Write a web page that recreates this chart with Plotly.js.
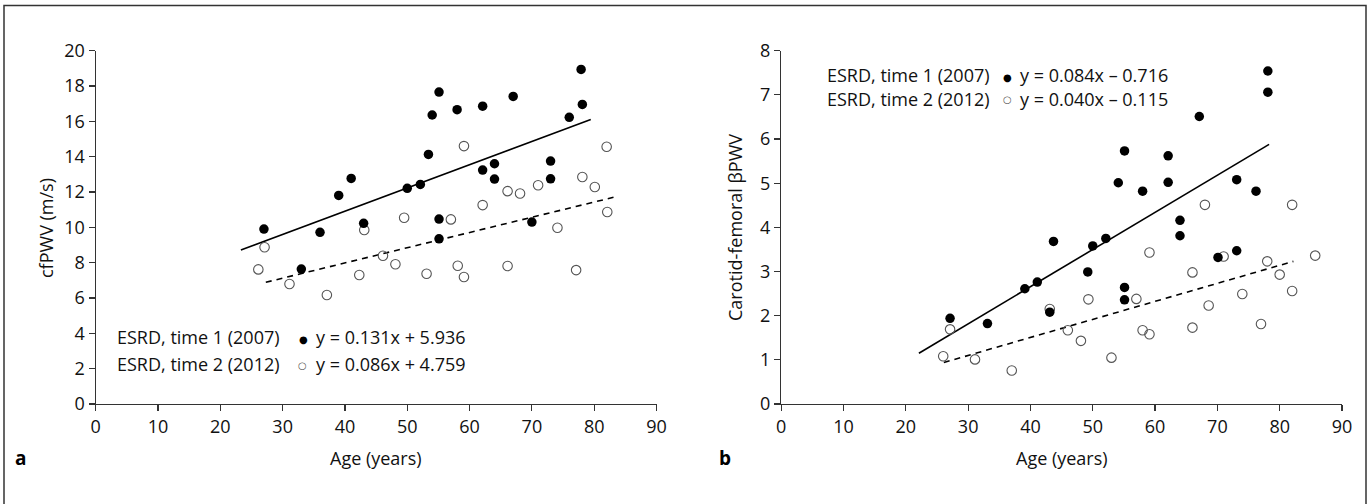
<!DOCTYPE html>
<html>
<head>
<meta charset="utf-8">
<script src="https://cdn.plot.ly/plotly-3.0.1.min.js"></script>
<style>html,body{margin:0;padding:0;background:#fff;}#chart{width:1372px;height:504px;}</style>
</head>
<body>
<div id="chart"></div>
<script>
// Panel a: cfPWV (m/s) vs age
const ageA1 = [27.0, 36.0, 33.0, 39.0, 41.0, 43.0, 50.0, 52.1, 53.4, 54.0, 55.1, 55.1, 55.1, 58.0, 62.1, 62.1, 64.0, 64.0, 67.0, 70.0, 73.0, 73.0, 76.0, 77.9, 78.1];
const pwvA1 = [9.90, 9.72, 7.64, 11.81, 12.77, 10.23, 12.21, 12.43, 14.13, 16.36, 17.66, 10.47, 9.35, 16.66, 16.86, 13.24, 13.60, 12.73, 17.41, 10.30, 13.75, 12.75, 16.23, 18.94, 16.96];
const ageA2 = [26.1, 27.1, 31.1, 37.1, 42.3, 43.1, 46.1, 48.1, 49.5, 53.1, 57.0, 58.1, 59.1, 59.1, 62.1, 66.1, 66.1, 68.1, 71.0, 74.1, 77.1, 78.1, 80.1, 82.0, 82.1];
const pwvA2 = [7.62, 8.87, 6.79, 6.17, 7.30, 9.85, 8.39, 7.91, 10.54, 7.37, 10.45, 7.83, 14.60, 7.19, 11.26, 12.05, 7.81, 11.92, 12.38, 9.98, 7.58, 12.85, 12.28, 14.56, 10.87];
const fitAx1 = [23.3, 79.45], fitAy1 = [8.72, 16.11];
const fitAx2 = [27.3, 83.1], fitAy2 = [6.89, 11.70];

// Panel b: carotid-femoral betaPWV vs age
const ageB1 = [27.1, 33.1, 39.1, 41.1, 43.7, 43.1, 49.2, 50.0, 52.1, 54.1, 55.1, 55.1, 55.1, 58.0, 62.1, 62.1, 64.0, 64.0, 67.1, 70.1, 73.1, 73.1, 76.2, 78.1, 78.1];
const pwvB1 = [1.94, 1.82, 2.61, 2.76, 3.68, 2.08, 2.99, 3.58, 3.75, 5.01, 5.73, 2.64, 2.36, 4.82, 5.62, 5.02, 4.16, 3.81, 6.51, 3.32, 5.08, 3.47, 4.82, 7.54, 7.06];
const ageB2 = [26.0, 27.1, 31.1, 37.0, 43.1, 46.0, 48.1, 49.3, 53.0, 57.0, 58.0, 59.1, 59.1, 66.0, 66.0, 68.0, 68.6, 71.0, 74.0, 77.0, 78.0, 80.0, 82.0, 82.0, 85.7];
const pwvB2 = [1.08, 1.69, 1.01, 0.76, 2.15, 1.67, 1.43, 2.37, 1.05, 2.38, 1.67, 3.43, 1.58, 2.98, 1.73, 4.51, 2.23, 3.34, 2.49, 1.81, 3.23, 2.93, 4.51, 2.56, 3.36];
const fitBx1 = [22.1, 78.3], fitBy1 = [1.15, 5.88];
const fitBx2 = [26.1, 82.2], fitBy2 = [0.94, 3.23];

const xTicks = [0, 10, 20, 30, 40, 50, 60, 70, 80, 90];
const yTicksA = [0, 2, 4, 6, 8, 10, 12, 14, 16, 18, 20];
const yTicksB = [0, 1, 2, 3, 4, 5, 6, 7, 8];

const labels = ['ESRD, time 1 (2007)', 'ESRD, time 2 (2012)'];
const eqA = ['y = 0.131x + 5.936', 'y = 0.086x + 4.759'];
const eqB = ['y = 0.084x \u2013 0.716', 'y = 0.040x \u2013 0.115'];

const FONT = 'Open Sans, Noto Sans, sans-serif';
const INK = '#111';
const FS = 18;

const filled = {size: 9.5, color: '#000', symbol: 'circle'};
const open = {size: 9.5, color: '#555', symbol: 'circle-open', line: {width: 1.1, color: '#555'}};

const traces = [
  {x: fitAx1, y: fitAy1, xaxis: 'x', yaxis: 'y', mode: 'lines', line: {color: '#000', width: 1.6}, hoverinfo: 'skip'},
  {x: fitAx2, y: fitAy2, xaxis: 'x', yaxis: 'y', mode: 'lines', line: {color: '#000', width: 1.6, dash: '6px,5px'}, hoverinfo: 'skip'},
  {x: ageA2, y: pwvA2, xaxis: 'x', yaxis: 'y', mode: 'markers', marker: open},
  {x: ageA1, y: pwvA1, xaxis: 'x', yaxis: 'y', mode: 'markers', marker: filled},
  {x: fitBx1, y: fitBy1, xaxis: 'x2', yaxis: 'y2', mode: 'lines', line: {color: '#000', width: 1.6}, hoverinfo: 'skip'},
  {x: fitBx2, y: fitBy2, xaxis: 'x2', yaxis: 'y2', mode: 'lines', line: {color: '#000', width: 1.6, dash: '6px,5px'}, hoverinfo: 'skip'},
  {x: ageB2, y: pwvB2, xaxis: 'x2', yaxis: 'y2', mode: 'markers', marker: open},
  {x: ageB1, y: pwvB1, xaxis: 'x2', yaxis: 'y2', mode: 'markers', marker: filled}
];

const W = 1372, H = 504;
const px = v => v / W;
const py = v => 1 - v / H;

function axis(domain, range, ticks, anchor) {
  return {
    domain: domain, range: range, tickvals: ticks, ticktext: ticks.map(String),
    showline: true, linecolor: '#333', linewidth: 1.2, ticks: 'outside', ticklen: 6,
    tickcolor: '#333', tickwidth: 1.2, showgrid: false, zeroline: false, anchor: anchor,
    tickfont: {family: FONT, size: FS, color: INK}, fixedrange: true
  };
}

const yDom = [py(404), py(50.7)];
const layout = {
  width: W, height: H,
  margin: {l: 0, r: 0, t: 0, b: 0},
  paper_bgcolor: '#fff', plot_bgcolor: 'rgba(0,0,0,0)',
  showlegend: false,
  font: {family: FONT, size: FS, color: INK},
  xaxis: axis([px(95.7), px(656.5)], [0, 90], xTicks, 'y'),
  yaxis: axis(yDom, [0, 20], yTicksA, 'x'),
  xaxis2: axis([px(781.2), px(1342)], [0, 90], xTicks, 'y2'),
  yaxis2: axis(yDom, [0, 8], yTicksB, 'x2'),
  shapes: [
    {type: 'rect', xref: 'paper', yref: 'paper', x0: px(4), x1: px(1366), y0: -0.02, y1: py(5.5),
     line: {color: '#333', width: 1.5}, fillcolor: 'rgba(0,0,0,0)'}
  ],
  annotations: []
};

const ann = layout.annotations;
function txt(x, y, text, opts) {
  ann.push(Object.assign({xref: 'paper', yref: 'paper', x: px(x), y: py(y), text: text, showarrow: false,
    xanchor: 'left', yanchor: 'middle', font: {family: FONT, size: FS, color: INK}}, opts || {}));
}
// axis titles
txt(376, 458, 'Age (years)', {xanchor: 'center'});
txt(1062, 458, 'Age (years)', {xanchor: 'center'});
txt(46, 228, 'cfPWV (m/s)', {xanchor: 'center', textangle: -90});
txt(735, 228, 'Carotid-femoral \u03b2PWV', {xanchor: 'center', textangle: -90});
// panel letters
txt(20, 458, '<b>a</b>', {xanchor: 'center', font: {family: FONT, size: 19, color: '#000'}});
txt(725, 458, '<b>b</b>', {xanchor: 'center', font: {family: FONT, size: 19, color: '#000'}});
// panel a legend
txt(115, 337, labels[0]);
txt(303.3, 339, '\u25cf', {xanchor: 'center', font: {family: 'DejaVu Sans', size: 10, color: '#000'}});
txt(314, 337, eqA[0]);
txt(115, 364, labels[1]);
txt(302.7, 365, '\u25cb', {xanchor: 'center', font: {family: 'DejaVu Sans', size: 10, color: '#555'}});
txt(314, 364, eqA[1]);
// panel b legend
txt(825, 75, labels[0]);
txt(1007.3, 77, '\u25cf', {xanchor: 'center', font: {family: 'DejaVu Sans', size: 10, color: '#000'}});
txt(1018, 75, eqB[0]);
txt(825, 99, labels[1]);
txt(1007.3, 100, '\u25cb', {xanchor: 'center', font: {family: 'DejaVu Sans', size: 10, color: '#555'}});
txt(1018, 99, eqB[1]);

Plotly.newPlot('chart', traces, layout, {displayModeBar: false, staticPlot: true});
</script>
</body>
</html>
